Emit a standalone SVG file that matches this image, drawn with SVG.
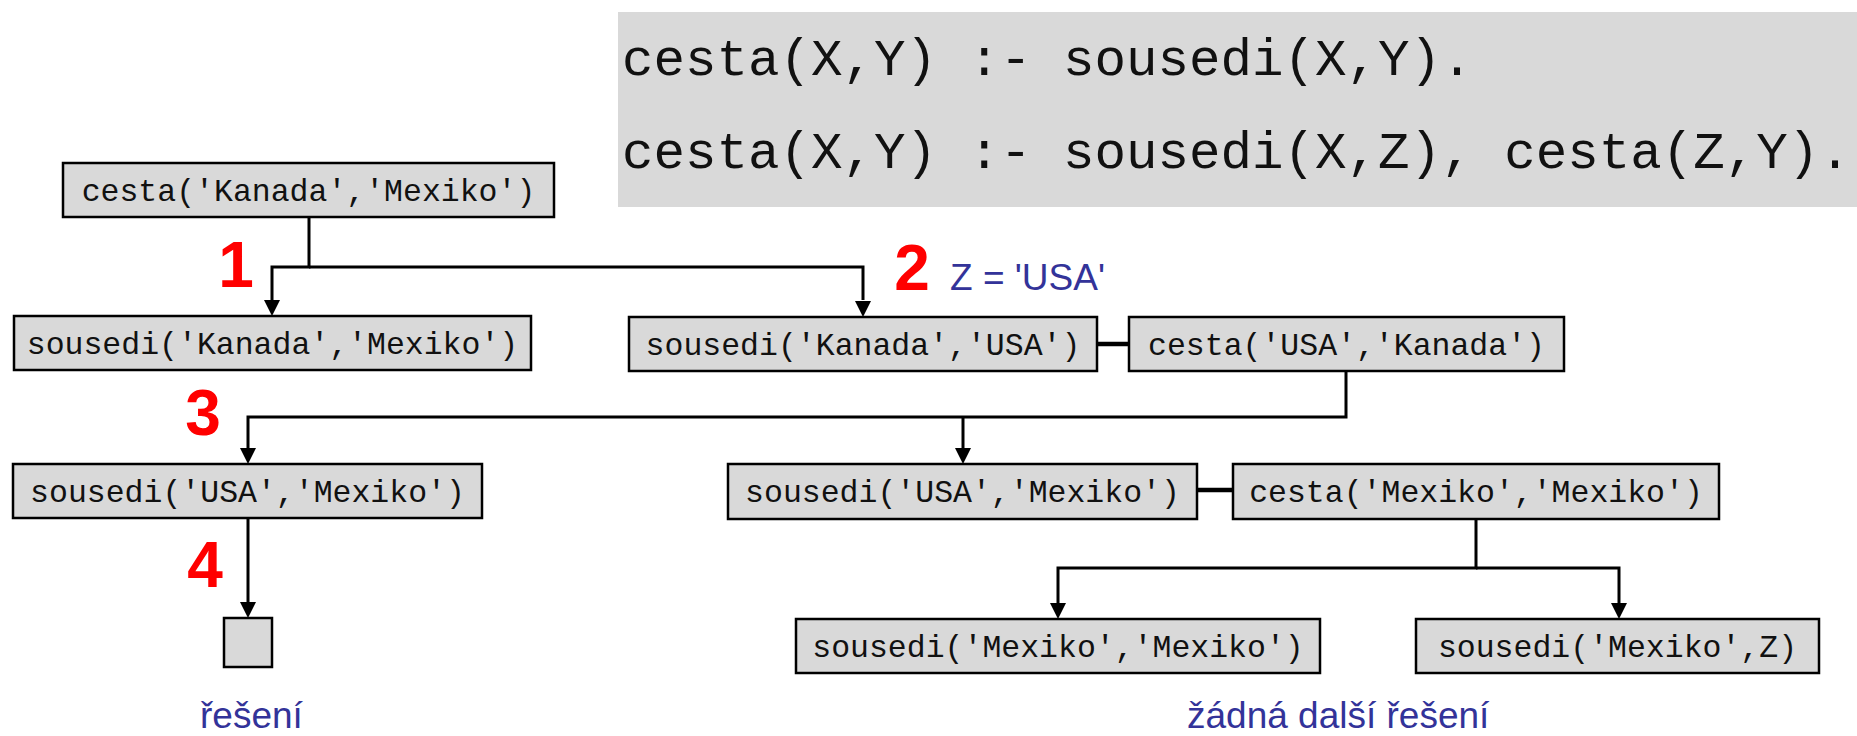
<svg xmlns="http://www.w3.org/2000/svg" width="1857" height="736" viewBox="0 0 1857 736">
<style>
.box{fill:#d9d9d9;stroke:#000;stroke-width:2.5}
.t{font-family:"Liberation Mono","Courier New",monospace;font-size:31.5px;fill:#111;text-anchor:middle}
.code{font-family:"Liberation Mono","Courier New",monospace;font-size:52.5px;fill:#111}
.num{font-family:"Liberation Sans",Arial,sans-serif;font-size:64px;font-weight:bold;fill:#ff0000;text-anchor:middle}
.lbl{font-family:"Liberation Sans",Arial,sans-serif;font-size:37px;fill:#333399}
.c{fill:none;stroke:#000;stroke-width:3}
.j{fill:none;stroke:#000;stroke-width:4.5}
.ah{fill:#000}
</style>
<rect x="618" y="12" width="1239" height="195" fill="#d9d9d9"/>
<text class="code" x="622" y="75">cesta(X,Y) :- sousedi(X,Y).</text>
<text class="code" x="622" y="168">cesta(X,Y) :- sousedi(X,Z), cesta(Z,Y).</text>
<g id="connectors">
<path class="c" d="M309,217 V267 H272 V300" />
<path class="c" d="M309,267 H863 V300" />
<path class="c" d="M1346,371 V417 H248 V448" />
<path class="c" d="M963,417 V448" />
<path class="c" d="M248,518 V602" />
<path class="c" d="M1476,519 V568 H1058 V603" />
<path class="c" d="M1476,568 H1619 V603" />
<path class="ah" d="M264,300 L280,300 L272,316 Z"/>
<path class="ah" d="M855,301 L871,301 L863,317 Z"/>
<path class="ah" d="M240,448 L256,448 L248,464 Z"/>
<path class="ah" d="M955,448 L971,448 L963,464 Z"/>
<path class="ah" d="M240,602 L256,602 L248,618 Z"/>
<path class="ah" d="M1050,603 L1066,603 L1058,619 Z"/>
<path class="ah" d="M1611,603 L1627,603 L1619,619 Z"/>
<line class="j" x1="1097" y1="344" x2="1129" y2="344"/>
<line class="j" x1="1197" y1="490" x2="1233" y2="490"/>
</g>
<g id="n1"><rect class="box" x="63" y="163" width="491" height="54"/><text class="t" x="308.5" y="201">cesta('Kanada','Mexiko')</text></g>
<g id="n2"><rect class="box" x="14" y="316" width="517" height="54"/><text class="t" x="272.5" y="354">sousedi('Kanada','Mexiko')</text></g>
<g id="n3"><rect class="box" x="629" y="317" width="468" height="54"/><text class="t" x="863" y="355">sousedi('Kanada','USA')</text></g>
<g id="n4"><rect class="box" x="1129" y="317" width="435" height="54"/><text class="t" x="1346.5" y="355">cesta('USA','Kanada')</text></g>
<g id="n5"><rect class="box" x="13" y="464" width="469" height="54"/><text class="t" x="247.5" y="502">sousedi('USA','Mexiko')</text></g>
<g id="n6"><rect class="box" x="728" y="464" width="469" height="55"/><text class="t" x="962.5" y="502">sousedi('USA','Mexiko')</text></g>
<g id="n7"><rect class="box" x="1233" y="464" width="486" height="55"/><text class="t" x="1476" y="502">cesta('Mexiko','Mexiko')</text></g>
<g id="n8"><rect class="box" x="224" y="618" width="48" height="49"/></g>
<g id="n9"><rect class="box" x="796" y="619" width="524" height="54"/><text class="t" x="1058" y="657">sousedi('Mexiko','Mexiko')</text></g>
<g id="n10"><rect class="box" x="1416" y="619" width="403" height="54"/><text class="t" x="1617.5" y="657">sousedi('Mexiko',Z)</text></g>
<text class="num" x="236" y="287">1</text>
<text class="num" x="912" y="290">2</text>
<text class="num" x="203" y="435">3</text>
<text class="num" x="205" y="587">4</text>
<text class="lbl" x="950" y="290">Z = 'USA'</text>
<text class="lbl" x="200" y="728">řešení</text>
<text class="lbl" x="1187" y="728">žádná další řešení</text>
</svg>
